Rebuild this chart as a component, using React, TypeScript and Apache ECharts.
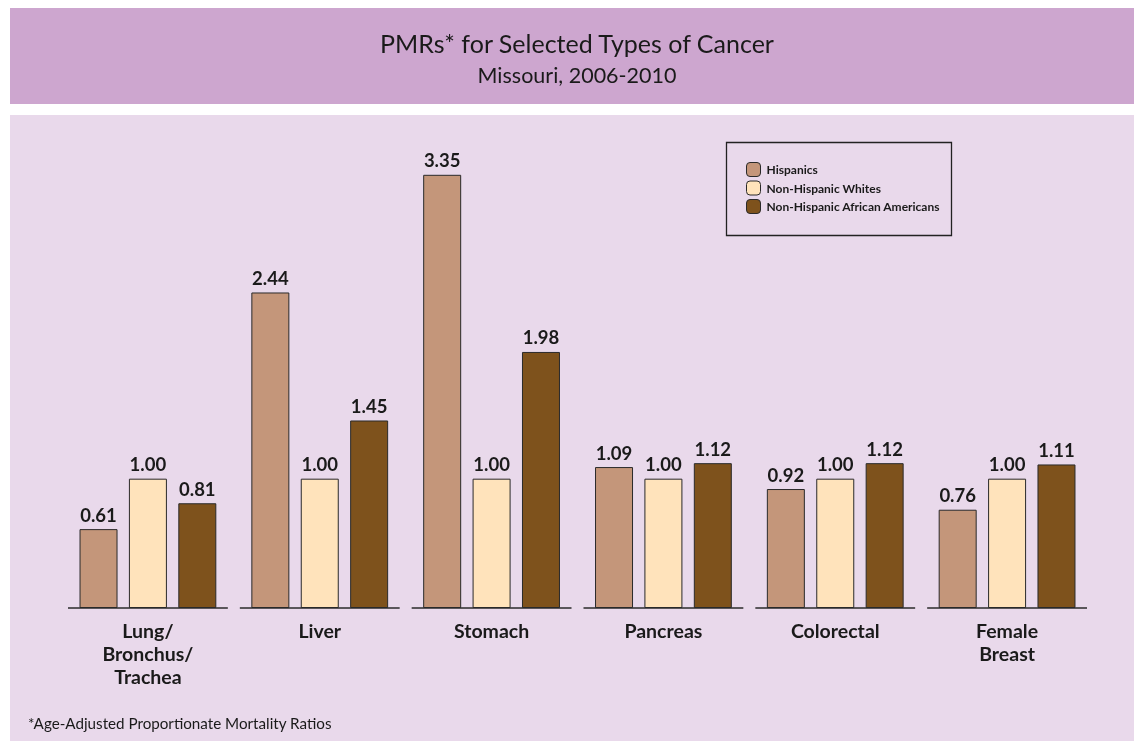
import React, { useEffect, useRef } from "react";
import * as echarts from "echarts";

const categories = ["Lung/\nBronchus/\nTrachea", "Liver", "Stomach", "Pancreas", "Colorectal", "Female\nBreast"];
const hispanics = [0.61, 2.44, 3.35, 1.09, 0.92, 0.76];
const whites = [1.0, 1.0, 1.0, 1.0, 1.0, 1.0];
const africanAmericans = [0.81, 1.45, 1.98, 1.12, 1.12, 1.11];
const seriesNames = ["Hispanics", "Non-Hispanic Whites", "Non-Hispanic African Americans"];
const colors = ["#C4967A", "#FFE3BB", "#7E521C"];

const FONT = "Lato, 'Open Sans', sans-serif";

export default function App() {
  const ref = useRef<HTMLDivElement>(null);
  useEffect(() => {
    if (!ref.current) return;
    const chart = echarts.init(ref.current, null, { renderer: "svg" });
    const mkBar = (name: string, data: number[], color: string) => ({
      name,
      type: "bar",
      data,
      barWidth: 38,
      barGap: "30%",
      itemStyle: { color, borderColor: "#2a2a2a", borderWidth: 1 },
      label: {
        show: true,
        position: "top",
        distance: 5,
        fontFamily: FONT,
        fontWeight: "bold",
        fontSize: 18.5,
        color: "#1a1a1a",
        formatter: (p: any) => Number(p.value).toFixed(2),
      },
      z: 3,
    });
    chart.setOption({
      animation: false,
      textStyle: { fontFamily: FONT },
      graphic: [
        { type: "rect", shape: { x: 10, y: 8, width: 1124, height: 96 }, style: { fill: "#CDA6CF" }, z: -10 },
        { type: "rect", shape: { x: 10, y: 115, width: 1124, height: 626 }, style: { fill: "#E9D9EB" }, z: -10 },
        {
          type: "text",
          x: 577,
          y: 43,
          style: { text: "PMRs* for Selected Types of Cancer", fontFamily: FONT, fontSize: 25, fill: "#1a1a1a", align: "center", verticalAlign: "middle" },
        },
        {
          type: "text",
          x: 577,
          y: 75,
          style: { text: "Missouri, 2006-2010", fontFamily: FONT, fontSize: 21.5, fill: "#1a1a1a", align: "center", verticalAlign: "middle" },
        },
        {
          type: "rect",
          shape: { x: 726.5, y: 142.5, width: 225, height: 93 },
          style: { fill: "none", stroke: "#222", lineWidth: 1.3 },
        },
        {
          type: "text",
          x: 28,
          y: 723,
          style: { text: "*Age-Adjusted Proportionate Mortality Ratios", fontFamily: FONT, fontSize: 15.2, fill: "#1a1a1a", verticalAlign: "middle" },
        },
      ],
      legend: {
        orient: "vertical",
        left: 746,
        top: 162,
        itemWidth: 14,
        itemHeight: 14,
        itemGap: 3.5,
        padding: 0,
        data: seriesNames,
        textStyle: { fontFamily: FONT, fontSize: 12, fontWeight: "bold", color: "#1a1a1a", padding: [0, 0, 0, 1] },
        itemStyle: { borderColor: "#2a2a2a", borderWidth: 1 },
      },
      grid: { left: 62, right: 41, top: 155.4, bottom: 133 },
      xAxis: {
        type: "category",
        data: categories,
        axisLine: { show: false },
        axisTick: { show: false },
        axisLabel: {
          fontFamily: FONT,
          fontWeight: "bold",
          fontSize: 19.5,
          lineHeight: 23,
          color: "#1a1a1a",
          margin: 11,
          interval: 0,
        },
      },
      yAxis: { type: "value", min: 0, max: 3.5, show: false, splitLine: { show: false } },
      series: [
        mkBar(seriesNames[0], hispanics, colors[0]),
        mkBar(seriesNames[1], whites, colors[1]),
        mkBar(seriesNames[2], africanAmericans, colors[2]),
        {
          type: "custom",
          data: categories.map((_, i) => i),
          silent: true,
          z: 5,
          renderItem: (params: any, api: any) => {
            const idx = api.value(0);
            const c = api.coord([idx, 0]);
            const w = api.size([1, 0])[0];
            return {
              type: "line",
              shape: { x1: c[0] - w / 2 + 6, y1: c[1], x2: c[0] + w / 2 - 6, y2: c[1] },
              style: { stroke: "#2a2a2a", lineWidth: 1.5 },
            };
          },
          encode: { x: 0 },
        },
      ],
    });
    return () => chart.dispose();
  }, []);
  return <div ref={ref} style={{ position: "fixed", left: 0, top: 0, width: 1134, height: 741 }} />;
}
